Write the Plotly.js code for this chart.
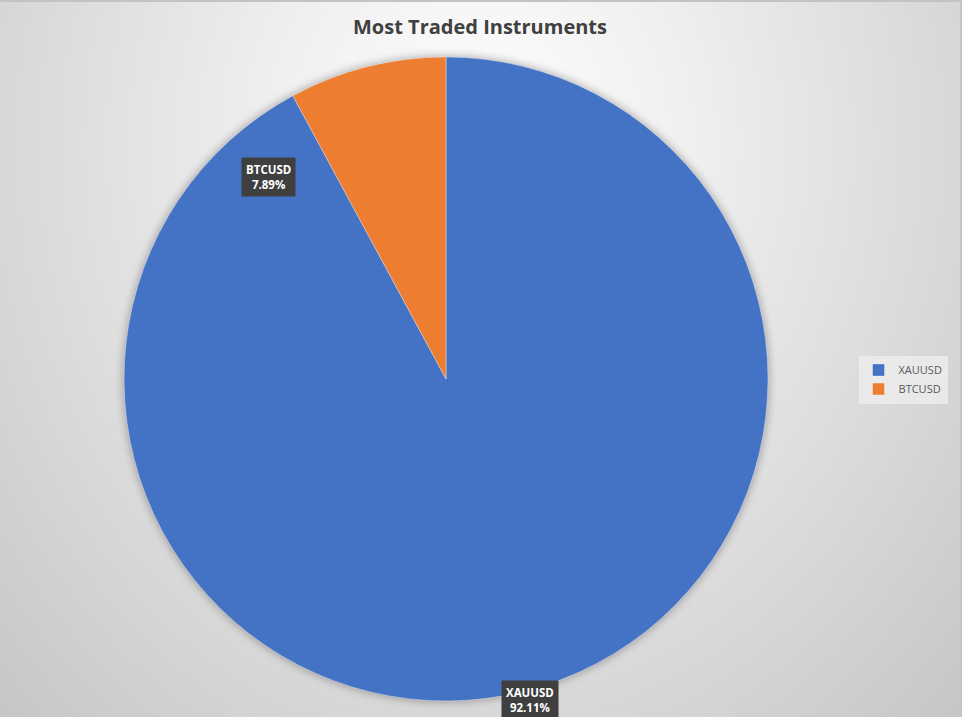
<!DOCTYPE html>
<html>
<head>
<meta charset="utf-8">
<script src="https://cdn.plot.ly/plotly-3.0.1.min.js"></script>
<style>
  html, body { margin: 0; padding: 0; }
  #chart {
    width: 962px; height: 717px;
    box-sizing: border-box;
    border-top: 2px solid #c3c3c3;
    border-right: 2px solid #c3c3c3;
    background: radial-gradient(ellipse farthest-corner at 50% 20%, #ffffff 0%, #f0f0f0 30%, #c6c6c6 100%);
  }
  #chart .pielayer { filter: drop-shadow(0 0 5px rgba(0,0,0,0.35)); }
</style>
</head>
<body>
<div id="chart"></div>
<script>
// instrument share of trades
const instruments = ['XAUUSD', 'BTCUSD'];
const shares = [92.11, 7.89];
const sliceColors = ['#4472C4', '#ED7D31'];

const total = shares.reduce((a, b) => a + b, 0);
const pctText = shares.map(v => (v / total * 100).toFixed(2) + '%');

const trace = {
  type: 'pie',
  labels: instruments,
  values: shares,
  sort: false,
  direction: 'clockwise',
  rotation: 0,
  textinfo: 'none',
  hoverinfo: 'label+percent',
  marker: { colors: sliceColors, line: { color: 'rgba(255,255,255,0.35)', width: 1 } },
  domain: { x: [0.1292, 0.8], y: [0.0224, 0.9231] }
};

// data label boxes, Excel style
const labelSpots = [
  { x: 0.552, y: 0.024 },
  { x: 0.2792, y: 0.7546 }
];
const annotations = instruments.map((name, i) => ({
  xref: 'paper', yref: 'paper',
  x: labelSpots[i].x, y: labelSpots[i].y,
  xanchor: 'center', yanchor: 'middle',
  text: '<b>' + name + '</b><br><b>' + pctText[i] + '</b>',
  showarrow: false,
  font: { family: 'Open Sans, sans-serif', size: 11.5, color: '#ffffff' },
  bgcolor: '#3f3f3f',
  borderpad: 4,
  align: 'center'
}));

const layout = {
  width: 960,
  height: 715,
  margin: { l: 0, r: 0, t: 0, b: 0 },
  paper_bgcolor: 'rgba(0,0,0,0)',
  plot_bgcolor: 'rgba(0,0,0,0)',
  title: {
    text: '<b>Most Traded Instruments</b>',
    x: 0.5, xanchor: 'center',
    y: 0.965, yanchor: 'middle',
    font: { family: 'Open Sans, sans-serif', size: 20, color: '#404040' }
  },
  showlegend: true,
  legend: {
    x: 0.987, xanchor: 'right',
    y: 0.472, yanchor: 'middle',
    bgcolor: 'rgba(236,236,236,0.85)',
    font: { family: 'Open Sans, sans-serif', size: 11, color: '#595959' },
    itemwidth: 30,
    tracegroupgap: 0
  },
  annotations: annotations
};

Plotly.newPlot('chart', [trace], layout, { staticPlot: true });
</script>
</body>
</html>
